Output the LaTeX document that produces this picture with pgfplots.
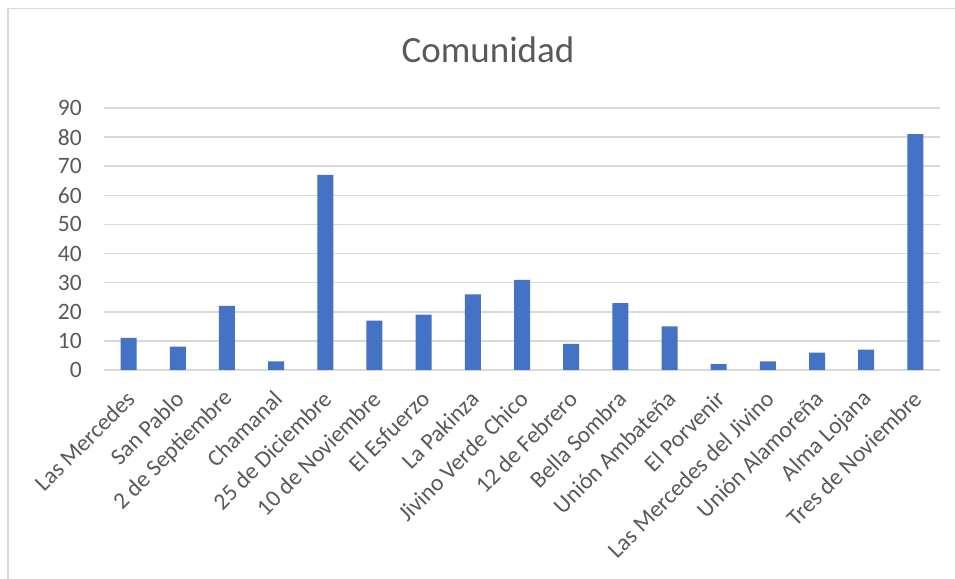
\documentclass[border=0pt]{standalone}
\usepackage{fontspec}
\setmainfont{Carlito}
\usepackage{pgfplots}
\pgfplotsset{compat=1.18}
\definecolor{barblue}{HTML}{4472C4}
\definecolor{txtgray}{HTML}{595959}
\definecolor{gridgray}{HTML}{D9D9D9}
\begin{document}
\begin{tikzpicture}[x=1pt,y=1pt]
  \path[use as bounding box] (0,0) rectangle (955,578);
  % chart frame (only left and top edges are inside the picture)
  \draw[gridgray, line width=1.8pt] (8,-2) -- (8,569.5) -- (957,569.5);
  \node[anchor=base, text=txtgray, font=\fontsize{37}{44}\selectfont] at (488,515) {Comunidad};
  \begin{axis}[
    at={(104pt,208pt)},
    anchor=south west,
    scale only axis,
    width=836pt,
    height=262pt,
    ybar,
    bar width=16pt,
    xmin=-0.5, xmax=16.5,
    ymin=0, ymax=90,
    ytick={0,10,...,90},
    xtick=data,
    xticklabels={Las Mercedes, San Pablo, 2 de Septiembre, Chamanal, 25 de Diciembre,
      10 de Noviembre, El Esfuerzo, La Pakinza, Jivino Verde Chico, 12 de Febrero,
      Bella Sombra, Unión Ambateña, El Porvenir, Las Mercedes del Jivino,
      Unión Alamoreña, Alma Lojana, Tres de Noviembre},
    axis line style={draw=none},
    major tick length=0pt,
    ymajorgrids=true,
    grid style={gridgray, line width=1.5pt},
    /pgf/number format/assume math mode=true,
    tick label style={text=txtgray, font=\fontsize{23.5}{28}\selectfont},
    yticklabel style={anchor=east, inner sep=0pt, xshift=-22pt},
    xticklabel style={anchor=east, inner sep=0pt, xshift=2pt, yshift=-25pt, rotate=45},
  ]
  \addplot[fill=barblue, draw=none] coordinates {
    (0,11) (1,8) (2,22) (3,3) (4,67) (5,17) (6,19) (7,26) (8,31)
    (9,9) (10,23) (11,15) (12,2) (13,3) (14,6) (15,7) (16,81)
  };
  \end{axis}
\end{tikzpicture}
\end{document}
